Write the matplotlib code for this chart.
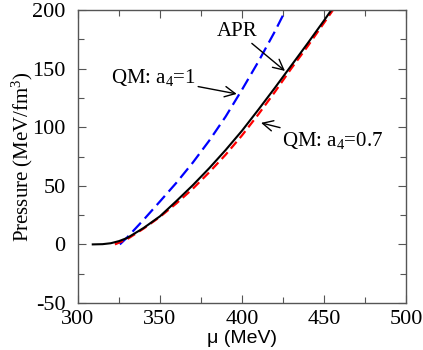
import numpy as np
import matplotlib
matplotlib.use('Agg')
import matplotlib.pyplot as plt
from matplotlib.ticker import MultipleLocator

# APR nuclear matter
mu_apr = [309, 315, 320, 325, 330, 340, 350, 360, 370, 380, 390, 400, 410, 420, 430, 440, 450, 455]
p_apr = [0, 0.2, 1.0, 2.8, 5.5, 14, 24, 37, 50.5, 65, 80.5, 97, 115, 133.5, 152.5, 171.5, 191, 201]

# quark matter, a4 = 0.7
mu_qm07 = [322.5, 325, 330, 340, 350, 360, 370, 380, 390, 400, 410, 420, 430, 440, 450, 456]
p_qm07 = [0, 1.5, 4.5, 13.5, 23.5, 35, 47.5, 61.5, 76.5, 93, 111, 130, 150, 169, 189, 201]

# quark matter, a4 = 1
mu_qm1 = [325.5, 330, 340, 350, 360, 370, 380, 390, 400, 410, 420, 427]
p_qm1 = [0, 6, 21, 36.7, 52.6, 69.8, 88.5, 109, 132, 156, 181.6, 201]

serif = ['Liberation Serif', 'DejaVu Serif']
sans = ['Liberation Sans', 'DejaVu Sans']

plt.rcParams['mathtext.fontset'] = 'custom'
plt.rcParams['mathtext.rm'] = 'Liberation Serif'
plt.rcParams['mathtext.it'] = 'Liberation Serif:italic'
plt.rcParams['mathtext.default'] = 'regular'
plt.rcParams['axes.unicode_minus'] = False

fig = plt.figure(figsize=(4.23, 3.5), dpi=100)
ax = fig.add_axes([0.1844, 0.1343, 0.7754, 0.8371])

ax.plot(mu_qm1, p_qm1, color='#0000ff', lw=1.6, dashes=(5.5, 2.6))
ax.plot(mu_qm07, p_qm07, color='#ff0000', lw=1.6, dashes=(4, 2.2))
ax.plot(mu_apr, p_apr, color='black', lw=1.5)

ax.set_xlim(300, 500)
ax.set_ylim(-50, 200)
ax.xaxis.set_major_locator(MultipleLocator(50))
ax.xaxis.set_minor_locator(MultipleLocator(25))
ax.yaxis.set_major_locator(MultipleLocator(50))
ax.yaxis.set_minor_locator(MultipleLocator(25))
ax.tick_params(which='both', direction='in', top=True, right=True,
               color='#555555', width=0.8)
ax.tick_params(which='major', length=6)
ax.tick_params(axis='x', which='major', pad=5)
ax.tick_params(axis='y', which='major', pad=9)
ax.tick_params(which='minor', length=4)
for s in ax.spines.values():
    s.set_color('#555555')
    s.set_linewidth(1.0)
for lab in ax.get_xticklabels() + ax.get_yticklabels():
    lab.set_family(serif)
    lab.set_fontsize(16)

ax.set_xlabel('\u03bc (MeV)', family=sans, fontsize=14, labelpad=1)
ax.set_ylabel('Pressure (MeV/fm$^3$)', family=serif, fontsize=15)
ax.yaxis.set_label_coords(-0.132, 0.5)

arrow = dict(arrowstyle='->,head_length=0.5,head_width=0.25', color='black',
             lw=1.0, shrinkA=0, shrinkB=0)
ax.annotate('APR', xy=(426.2, 148), xytext=(397, 182), family=serif, fontsize=15,
            ha='center', va='center', arrowprops=arrow)
ax.annotate('QM: a$_4$=1', xy=(396.8, 128.4), xytext=(345.7, 142), family=serif,
            fontsize=15, ha='center', va='center', arrowprops=arrow)
ax.annotate('QM: a$_4$=0.7', xy=(411.6, 103.7), xytext=(455.5, 88.3), family=serif,
            fontsize=15, ha='center', va='center', arrowprops=arrow)

fig.savefig('out.png', dpi=100)
